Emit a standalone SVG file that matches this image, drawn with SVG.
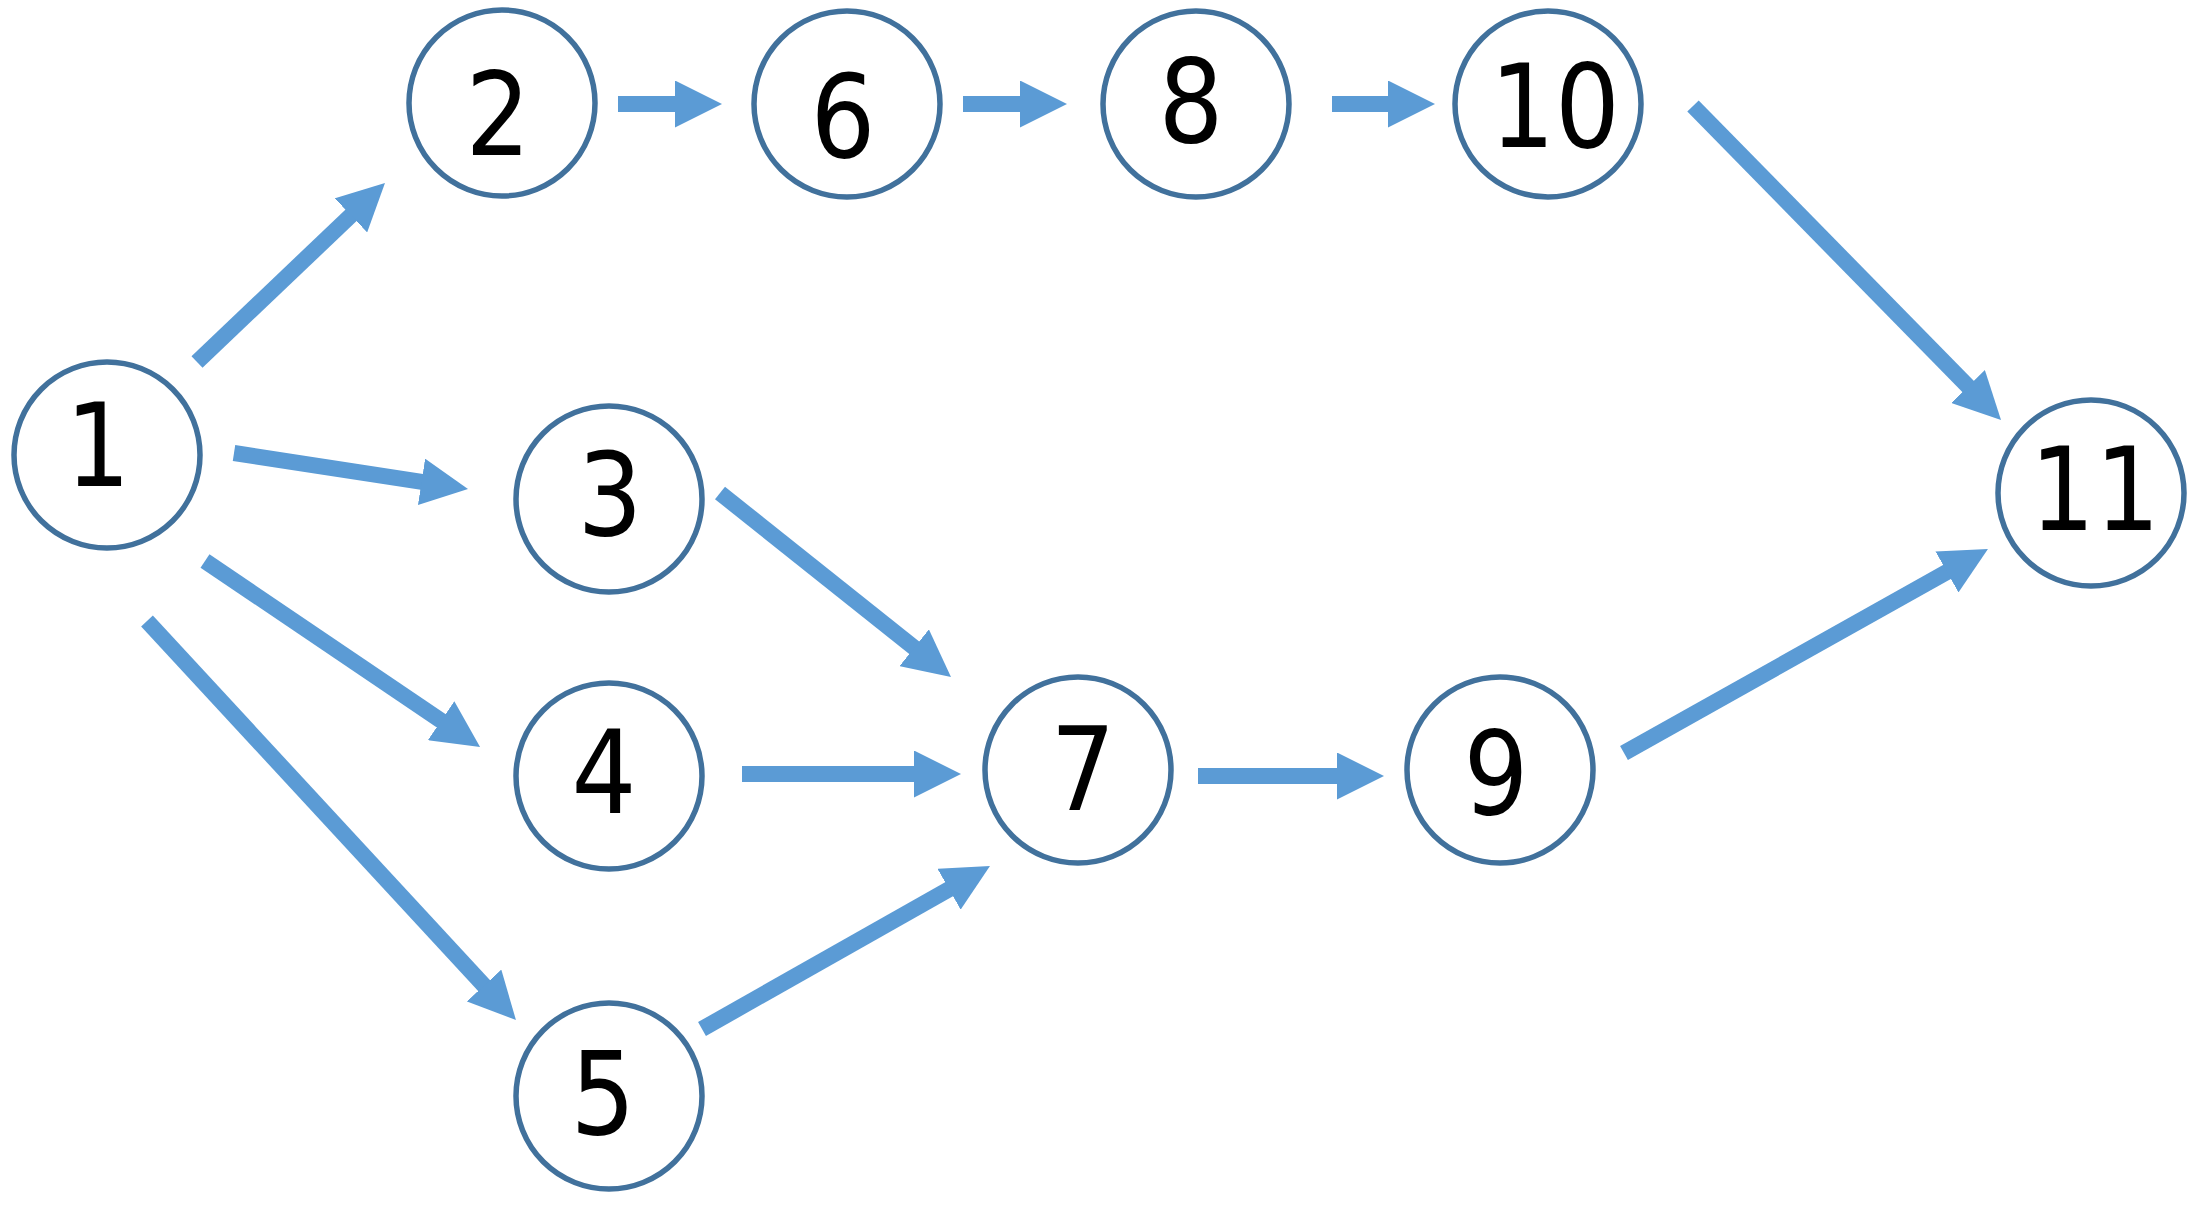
<svg xmlns="http://www.w3.org/2000/svg" width="2201" height="1205" viewBox="0 0 2201 1205">
<style>
.node circle{fill:#ffffff;stroke:#41719C;stroke-width:5.5}
.node text{font-family:"DejaVu Sans","Liberation Sans",sans-serif;font-size:116px;fill:#000000;text-anchor:middle}
.edge{stroke:#5B9BD5;stroke-width:16;stroke-linecap:butt;fill:none;marker-end:url(#arr)}
</style>
<defs>
<marker id="arr" viewBox="0 0 47 47" markerWidth="47" markerHeight="47" markerUnits="userSpaceOnUse" refX="2" refY="23.5" orient="auto">
<path d="M0,0 L47,23.5 L0,47 Z" fill="#5B9BD5"/>
</marker>
</defs>
<rect width="2201" height="1205" fill="#ffffff"/>
<g id="connectors">
<line class="edge" x1="197" y1="362" x2="352.4" y2="214"/>
<line class="edge" x1="234" y1="453" x2="423.5" y2="482.2"/>
<line class="edge" x1="205" y1="561" x2="442.8" y2="721.8"/>
<line class="edge" x1="147" y1="621" x2="485.4" y2="987"/>
<line class="edge" x1="618" y1="104" x2="677" y2="104"/>
<line class="edge" x1="963" y1="104" x2="1022" y2="104"/>
<line class="edge" x1="1332" y1="104" x2="1390" y2="104"/>
<line class="edge" x1="1693" y1="106" x2="1969.5" y2="387.9"/>
<line class="edge" x1="720" y1="493" x2="915.8" y2="649"/>
<line class="edge" x1="742" y1="774" x2="916" y2="774"/>
<line class="edge" x1="702" y1="1029" x2="950.8" y2="888.2"/>
<line class="edge" x1="1198" y1="776" x2="1339" y2="776"/>
<line class="edge" x1="1624" y1="753" x2="1948.7" y2="571"/>
</g>
<g id="node1" class="node"><circle cx="107" cy="455" r="93"/><text transform="translate(98 486) scale(0.88 1)">1</text></g>
<g id="node2" class="node"><circle cx="502" cy="103" r="93"/><text transform="translate(498 155) scale(0.88 1)">2</text></g>
<g id="node3" class="node"><circle cx="609" cy="499" r="93"/><text transform="translate(610 535) scale(0.88 1)">3</text></g>
<g id="node4" class="node"><circle cx="609" cy="776" r="93"/><text transform="translate(604 813) scale(0.88 1)">4</text></g>
<g id="node5" class="node"><circle cx="609" cy="1096" r="93"/><text transform="translate(603 1134) scale(0.88 1)">5</text></g>
<g id="node6" class="node"><circle cx="847" cy="104" r="93"/><text transform="translate(843 157) scale(0.88 1)">6</text></g>
<g id="node7" class="node"><circle cx="1078" cy="770" r="93"/><text transform="translate(1083 810) scale(0.88 1)">7</text></g>
<g id="node8" class="node"><circle cx="1196" cy="104" r="93"/><text transform="translate(1191 142) scale(0.88 1)">8</text></g>
<g id="node9" class="node"><circle cx="1500" cy="770" r="93"/><text transform="translate(1496 814) scale(0.88 1)">9</text></g>
<g id="node10" class="node"><circle cx="1548" cy="104" r="93"/><text transform="translate(1555 147) scale(0.88 1)">10</text></g>
<g id="node11" class="node"><circle cx="2091" cy="493" r="93"/><text transform="translate(2095 530) scale(0.88 1)">11</text></g>
</svg>
